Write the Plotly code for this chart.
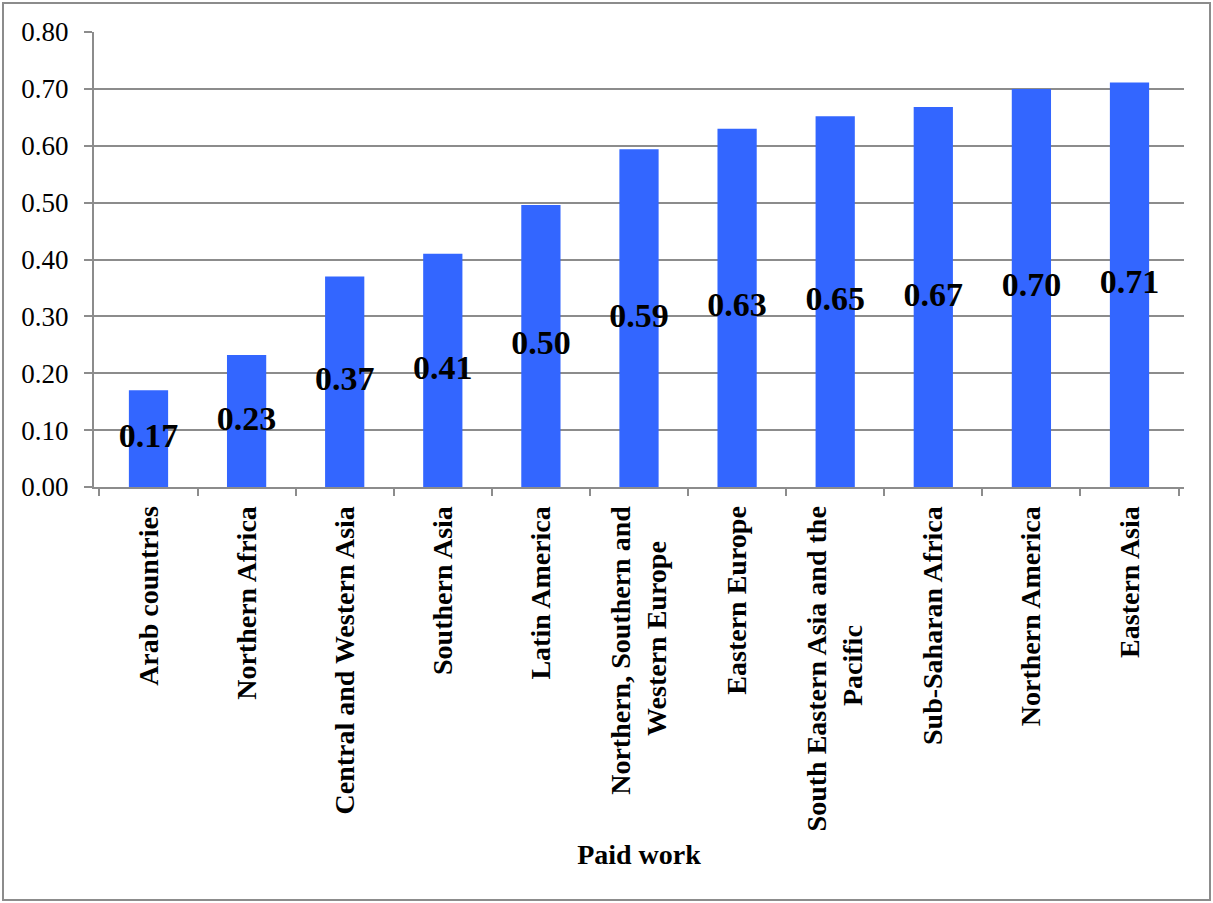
import plotly.graph_objects as go

regioes = ["Arab countries", "Northern Africa", "Central and Western Asia", "Southern Asia",
           "Latin America", "Northern, Southern and<br>Western Europe", "Eastern Europe",
           "South Eastern Asia and the<br>Pacific", "Sub-Saharan Africa", "Northern America",
           "Eastern Asia"]
valores = [0.17, 0.232, 0.37, 0.41, 0.496, 0.594, 0.63, 0.652, 0.668, 0.70, 0.711]
rotulos = ["%.2f" % v for v in valores]

serif = "Liberation Serif"
cinza = "#8c8c8c"
nb = "\u00a0"

# plotly alinha as linhas pelo fim do texto; completa a linha curta para centralizar
ajuste = {5: 5, 7: 17}
textos = []
for i, r in enumerate(regioes):
    if i in ajuste:
        a, b = r.split("<br>")
        r = a + "<br>" + b + nb * ajuste[i]
    textos.append(r)

fig = go.Figure()
fig.add_trace(go.Bar(x=regioes, y=valores, marker_color="#3366FF",
                     marker_line_width=0, hoverinfo="skip"))
# rotulos no meio da barra
fig.add_trace(go.Scatter(x=regioes, y=[v / 2 for v in valores], mode="text",
                         text=rotulos, textposition="middle center",
                         textfont=dict(family=serif, size=34, color="black", weight="bold"),
                         hoverinfo="skip"))

fig.update_layout(
    width=1213, height=903,
    margin=dict(l=94, r=29, t=32, b=416),
    paper_bgcolor="white", plot_bgcolor="white",
    showlegend=False, bargap=0.6,
    font=dict(family=serif, color="black"),
    xaxis=dict(
        tickangle=-90, tickfont=dict(family=serif, size=28, weight="bold"),
        tickvals=regioes, ticktext=textos,
        ticks="outside", tickson="boundaries", ticklen=7, tickcolor=cinza, tickwidth=2,
        showline=True, linecolor=cinza, linewidth=2, showgrid=False,
        ticklabelstandoff=6,
        title=dict(text="<b>Paid work</b>", font=dict(family=serif, size=28), standoff=14),
    ),
    yaxis=dict(
        range=[0, 0.8], dtick=0.1, tickformat=".2f",
        tickfont=dict(family=serif, size=27),
        ticks="outside", ticklen=8, tickcolor=cinza, tickwidth=2,
        showline=True, linecolor=cinza, linewidth=2,
        showgrid=True, gridcolor=cinza, gridwidth=2, zeroline=False,
        ticklabelstandoff=10,
    ),
)

# moldura em volta do grafico
fig.add_shape(type="rect", xref="paper", yref="paper",
              x0=-91 / 1090, x1=1 + 26 / 1090, y0=-413 / 455, y1=1 + 29 / 455,
              line=dict(color=cinza, width=2), fillcolor="rgba(0,0,0,0)")

# tira a margem padrao do body para o grafico ficar em 0,0
fig.write_html("out.html", config={"displayModeBar": False},
               post_script="document.body.style.margin='0';")
